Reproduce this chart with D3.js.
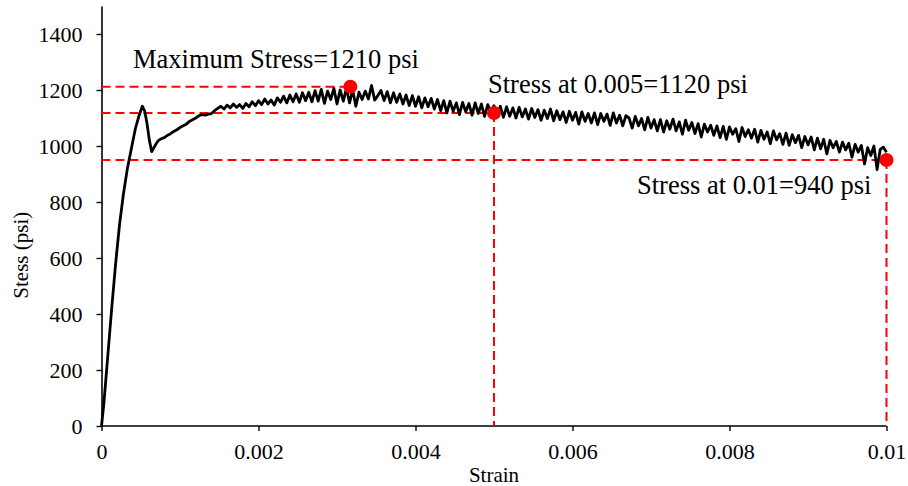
<!DOCTYPE html>
<html>
<head>
<meta charset="utf-8">
<script src="https://cdn.jsdelivr.net/npm/d3@7"></script>
<style>
  body { margin: 0; background: #fff; }
  svg { display: block; }
  text { font-family: "Liberation Serif", "Times New Roman", Times, "DejaVu Serif", serif; fill: #000; }
</style>
</head>
<body>
<script>
// loading part of the curve as [strain, stress]
var riseData = [
  [0, 0], [0.00003, 80], [0.00008, 250], [0.00013, 420], [0.00018, 580],
  [0.00023, 720], [0.00028, 830], [0.00033, 920], [0.00038, 990],
  [0.00043, 1060], [0.00048, 1110], [0.00052, 1142], [0.00055, 1125],
  [0.00058, 1080], [0.00061, 1020], [0.00064, 980], [0.00067, 995], [0.0007, 1010]
];

// noisy part, one stress value every 0.00004 strain starting at 0.00072
var noisyStart = 0.00072,
    noisyStep = 0.00004;
var noisyStress = [
  1018, 1026, 1030, 1038, 1044, 1052, 1058, 1066, 1072, 1078,
  1088, 1094, 1100, 1108, 1112, 1110, 1114, 1116, 1126, 1134,
  1142, 1132, 1146, 1136, 1150, 1138, 1148, 1134, 1152, 1140,
  1158, 1144, 1162, 1148, 1168, 1150, 1164, 1146, 1172, 1156,
  1178, 1154, 1182, 1158, 1186, 1156, 1190, 1162, 1192, 1158,
  1198, 1160, 1202, 1152, 1196, 1166, 1206, 1150, 1200, 1160,
  1206, 1154, 1200, 1142, 1192, 1166, 1196, 1168, 1216, 1164,
  1180, 1198, 1162, 1194, 1154, 1190, 1156, 1186, 1150, 1182,
  1144, 1180, 1142, 1176, 1136, 1172, 1140, 1170, 1132, 1166,
  1126, 1162, 1118, 1160, 1124, 1154, 1112, 1156, 1122, 1152,
  1110, 1154, 1116, 1150, 1106, 1148, 1120, 1144, 1108, 1142,
  1102, 1140, 1106, 1136, 1100, 1138, 1104, 1132, 1096, 1134,
  1102, 1130, 1092, 1128, 1098, 1132, 1090, 1126, 1094, 1122,
  1084, 1124, 1092, 1120, 1078, 1122, 1088, 1116, 1082, 1118,
  1076, 1116, 1088, 1114, 1074, 1118, 1082, 1110, 1072, 1108,
  1100, 1064, 1106, 1072, 1098, 1058, 1102, 1064, 1094, 1054,
  1094, 1050, 1090, 1060, 1096, 1054, 1086, 1042, 1092, 1056,
  1084, 1044, 1080, 1032, 1078, 1050, 1074, 1038, 1072, 1030,
  1070, 1024, 1068, 1042, 1062, 1016, 1066, 1034, 1058, 1028,
  1060, 1014, 1056, 1024, 1050, 1008, 1054, 1022, 1044, 1006,
  1046, 1002, 1040, 1012, 1038, 994, 1034, 1004, 1032, 986,
  1028, 990, 1024, 972, 1020, 994, 1016, 978, 1014, 986,
  1010, 960, 1006, 978, 1002, 936, 994, 966, 1000, 916,
  988, 996, 978
];

// marked points
var markers = [
  { strain: 0.00317, stress: 1212, label: "Maximum Stress=1210 psi", vline: false },
  { strain: 0.005, stress: 1118, label: "Stress at 0.005=1120 psi", vline: true },
  { strain: 0.01, stress: 950, label: "Stress at 0.01=940 psi", vline: true }
];

var xTicks = [0, 0.002, 0.004, 0.006, 0.008, 0.01];
var yTicks = [0, 200, 400, 600, 800, 1000, 1200, 1400];
var xLabels = ["0", "0.002", "0.004", "0.006", "0.008", "0.01"];

var width = 908, height = 486;
var margin = { top: 6, right: 21.5, bottom: 60, left: 101.5 };
var serif = '"Liberation Serif", "Times New Roman", Times, "DejaVu Serif", serif';

var curve = riseData.map(function(d) { return { x: d[0], y: d[1] }; });
noisyStress.forEach(function(v, i) {
  curve.push({ x: noisyStart + i * noisyStep, y: v });
});

var svg = d3.select("body").append("svg")
    .attr("width", width)
    .attr("height", height);

var x = d3.scaleLinear()
    .domain([0, 0.01])
    .range([margin.left, width - margin.right]);

var y = d3.scaleLinear()
    .domain([0, 1500])
    .range([height - margin.bottom, margin.top]);

// axes
var xAxis = svg.append("g")
    .attr("transform", "translate(0," + y(0) + ")")
    .call(d3.axisBottom(x).tickValues(xTicks).tickSize(5).tickPadding(12)
      .tickFormat(function(d, i) { return xLabels[i]; }));

var yAxis = svg.append("g")
    .attr("transform", "translate(" + x(0) + ",0)")
    .call(d3.axisLeft(y).tickValues(yTicks).tickSize(5).tickPadding(14)
      .tickSizeOuter(0).tickFormat(d3.format("d")));

[xAxis, yAxis].forEach(function(g) {
  g.attr("font-family", serif);
  g.select(".domain").attr("stroke", "#000").attr("stroke-width", 1.6);
  g.selectAll(".tick line").attr("stroke", "#000").attr("stroke-width", 1.4);
  g.selectAll(".tick text")
    .style("font-family", serif)
    .style("font-size", "22px")
    .attr("fill", "#000");
});
xAxis.select(".domain").attr("d", "M" + x(0) + ",0H" + x(0.01));

// red dashed guides
markers.forEach(function(m) {
  svg.append("line")
    .attr("x1", x(0)).attr("x2", x(m.strain))
    .attr("y1", y(m.stress)).attr("y2", y(m.stress))
    .attr("stroke", "#ff0000")
    .attr("stroke-width", 2)
    .attr("stroke-dasharray", "9,5");
  if (m.vline) {
    svg.append("line")
      .attr("x1", x(m.strain)).attr("x2", x(m.strain))
      .attr("y1", y(m.stress)).attr("y2", y(0))
      .attr("stroke", "#ff0000")
      .attr("stroke-width", 2)
      .attr("stroke-dasharray", "9,5");
  }
});

// stress-strain curve
var line = d3.line()
    .x(function(d) { return x(d.x); })
    .y(function(d) { return y(d.y); });

svg.append("path")
    .datum(curve)
    .attr("fill", "none")
    .attr("stroke", "#000")
    .attr("stroke-width", 2.8)
    .attr("stroke-linejoin", "round")
    .attr("d", line);

// marker dots
svg.selectAll("circle.mark")
    .data(markers)
    .enter()
    .append("circle")
    .attr("class", "mark")
    .attr("cx", function(d) { return x(d.strain); })
    .attr("cy", function(d) { return y(d.stress); })
    .attr("r", 7)
    .attr("fill", "#ff0000");

// annotation texts
var labelPos = [[133, 68], [488, 93], [637, 194]];
svg.selectAll("text.note")
    .data(markers)
    .enter()
    .append("text")
    .attr("class", "note")
    .attr("x", function(d, i) { return labelPos[i][0]; })
    .attr("y", function(d, i) { return labelPos[i][1]; })
    .style("font-family", serif)
    .style("font-size", "26.5px")
    .text(function(d) { return d.label; });

// axis titles
svg.append("text")
    .attr("x", (x(0) + x(0.01)) / 2)
    .attr("y", 482)
    .attr("text-anchor", "middle")
    .style("font-family", serif)
    .style("font-size", "21px")
    .text("Strain");

svg.append("text")
    .attr("transform", "translate(28," + y(610) + ") rotate(-90)")
    .attr("text-anchor", "middle")
    .style("font-family", serif)
    .style("font-size", "21px")
    .text("Stess (psi)");
</script>
</body>
</html>
